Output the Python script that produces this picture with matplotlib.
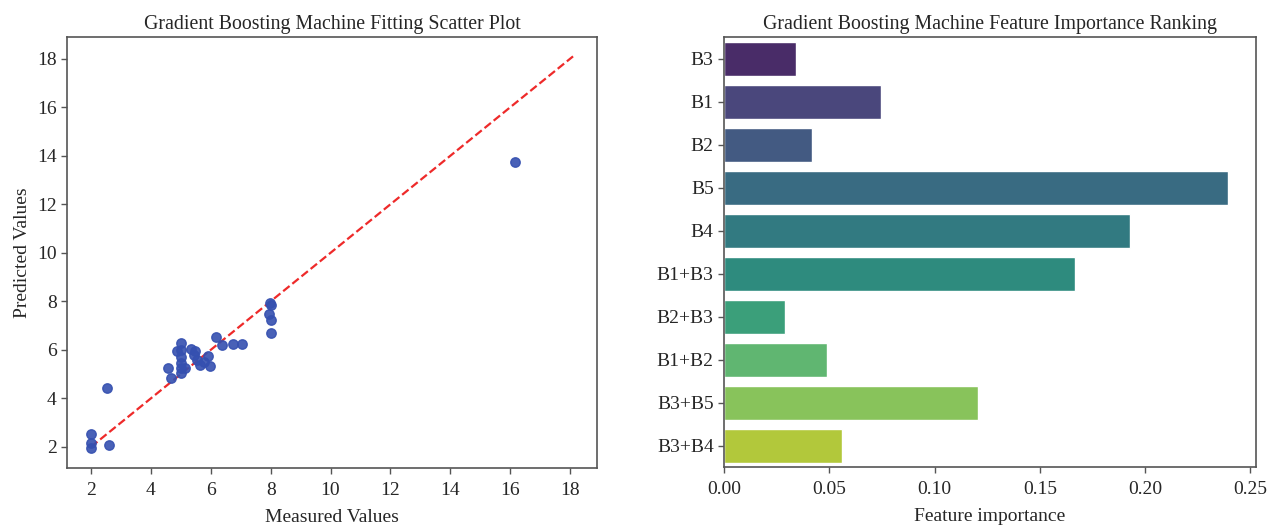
import numpy as np
import matplotlib
matplotlib.use("Agg")
import matplotlib.pyplot as plt
import seaborn as sns

# scatter data: measured vs predicted
measured = [2.0, 2.0, 2.0, 2.6, 2.55, 4.56, 4.67, 4.87, 5.0, 5.0, 5.0, 5.0, 5.0,
            5.0, 5.14, 5.33, 5.48, 5.43, 5.53, 5.64, 5.76, 5.92, 5.96, 6.17,
            6.37, 6.74, 7.04, 7.99, 8.0, 7.94, 8.0, 8.0, 16.15]
predicted = [2.54, 2.18, 1.95, 2.08, 4.42, 5.26, 4.82, 5.95, 6.27, 6.0, 5.72, 5.45,
             5.24, 5.04, 5.26, 6.03, 5.97, 5.79, 5.59, 5.38, 5.52, 5.75, 5.34,
             6.55, 6.21, 6.24, 6.24, 7.95, 7.85, 7.47, 7.24, 6.69, 13.75]
line_ends = [2.0, 18.1]

# feature importance
features = ["B3", "B1", "B2", "B5", "B4", "B1+B3", "B2+B3", "B1+B2", "B3+B5", "B3+B4"]
importance = [0.0341, 0.0746, 0.0416, 0.2395, 0.1928, 0.1668, 0.0289, 0.0490, 0.1207, 0.0558]

sns.set_style("white")
plt.rcParams['font.family'] = ['Liberation Serif', 'DejaVu Serif']
plt.rcParams['font.size'] = 14

fig = plt.figure(figsize=(12.77, 5.25), dpi=100)
ax1 = fig.add_axes([0.0525, 0.1086, 0.415, 0.821])
ax2 = fig.add_axes([0.567, 0.110, 0.4166, 0.819])

ax1.scatter(measured, predicted, s=46, color='#3550b0', alpha=0.9, zorder=3)
ax1.plot(line_ends, line_ends, '--', color='#ee2a2a', lw=1.6, zorder=2)
ax1.set_xlim(1.2, 18.9)
ax1.set_ylim(1.13, 18.9)
ax1.set_xticks(range(2, 19, 2))
ax1.set_yticks(range(2, 19, 2))
ax1.set_xlabel("Measured Values", labelpad=7)
ax1.set_ylabel("Predicted Values")
ax1.set_title("Gradient Boosting Machine Fitting Scatter Plot", fontsize=14.3)

sns.barplot(x=importance, y=features, hue=features, palette='viridis',
            legend=False, ax=ax2)
ax2.set_xlim(0, 0.2395 * 1.055)
ax2.set_xticks([0.0, 0.05, 0.10, 0.15, 0.20, 0.25])
ax2.set_xticklabels(["0.00", "0.05", "0.10", "0.15", "0.20", "0.25"])
ax2.set_xlabel("Feature importance", labelpad=7)
ax2.set_ylabel("")
ax2.set_title("Gradient Boosting Machine Feature Importance Ranking", fontsize=14.3)

for ax in (ax1, ax2):
    for sp in ax.spines.values():
        sp.set_color('#555555')
        sp.set_linewidth(1.2)
    ax.tick_params(axis='both', which='both', direction='out', length=4,
                   width=1, color='#555555', labelsize=14, left=True, bottom=True)
    ax.tick_params(axis='x', pad=6)

fig.savefig("out.png", dpi=100)
